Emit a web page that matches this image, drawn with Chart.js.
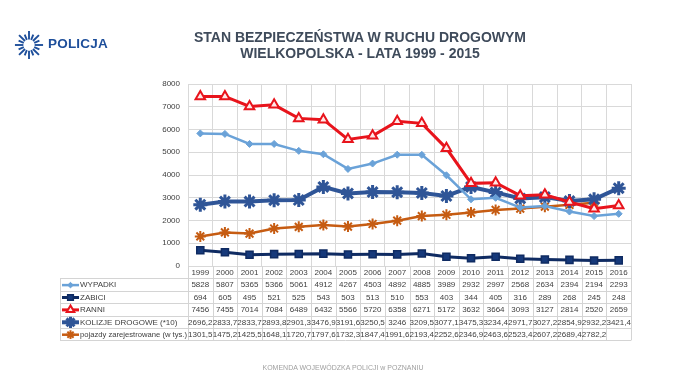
<!DOCTYPE html>
<html>
<head>
<meta charset="utf-8">
<script src="https://cdn.jsdelivr.net/npm/chart.js@4.4.1/dist/chart.umd.min.js"></script>
<style>
  html, body { margin: 0; padding: 0; background: #fff; }
  #wrap { position: relative; width: 686px; height: 385px; overflow: hidden; }
  #chart { position: absolute; left: 0; top: 0; }
  .title { position: absolute; left: 0; width: 720px; text-align: center; font-family: "Liberation Sans", Arial, sans-serif; font-weight: bold; font-size: 14px; color: #3f4b5b; }
  #logoText { position: absolute; left: 48px; top: 36px; font-family: "Liberation Sans", Arial, sans-serif; font-weight: bold; font-size: 13.5px; color: #1d4e9a; letter-spacing: 0.2px; }
  #logo { position: absolute; left: 14px; top: 30px; }
  #footer { position: absolute; left: 0; width: 686px; top: 364px; text-align: center; font-family: "Liberation Sans", Arial, sans-serif; font-size: 7px; color: #a0a0a0; }
</style>
</head>
<body>
<div id="wrap">
  <canvas id="chart" width="686" height="385"></canvas>
  <svg id="logo" width="30" height="30" viewBox="-16 -16 32 32"></svg>
  <div id="logoText">POLICJA</div>
  <div class="title" style="top:29px">STAN BEZPIECZEŃSTWA W RUCHU DROGOWYM</div>
  <div class="title" style="top:45px">WIELKOPOLSKA - LATA 1999 - 2015</div>
  <div id="footer">KOMENDA WOJEWÓDZKA POLICJI w POZNANIU</div>
</div>
<script>
let years = ["1999","2000","2001","2002","2003","2004","2005","2006","2007","2008","2009","2010","2011","2012","2013","2014","2015","2016"];
let wypadki = [5828,5807,5365,5366,5061,4912,4267,4503,4892,4885,3989,2932,2997,2568,2634,2394,2194,2293];
let zabici = [694,605,495,521,525,543,503,513,510,553,403,344,405,316,289,268,245,248];
let ranni = [7456,7455,7014,7084,6489,6432,5566,5720,6358,6271,5172,3632,3664,3093,3127,2814,2520,2659];
let kolizje = [2696.2,2833.7,2833.7,2893.8,2901.3,3476.9,3191.6,3250.5,3246,3209.5,3077.1,3475.3,3234.4,2971.7,3027.2,2854.9,2932.2,3421.4];
let pojazdy = [1301.5,1475.2,1425.5,1648.1,1720.7,1797.6,1732.3,1847.4,1991.6,2193.4,2252.6,2346.9,2463.6,2523.4,2607.2,2689.4,2782.2,null];
let yTicks = [0,1000,2000,3000,4000,5000,6000,7000,8000];

// logo rays
let svg = document.getElementById("logo");
let rays = "";
for (let i = 0; i < 16; i++) {
    let a = i * Math.PI / 8;
    let r1 = 6, r2 = (i % 2 == 0) ? 15 : 12;
    rays += `<line x1="${(Math.cos(a)*r1).toFixed(2)}" y1="${(Math.sin(a)*r1).toFixed(2)}" x2="${(Math.cos(a)*r2).toFixed(2)}" y2="${(Math.sin(a)*r2).toFixed(2)}" stroke="#1d4e9a" stroke-width="2"/>`;
}
svg.innerHTML = rays;

function fmt(v) {
    if (v === null || v === undefined) return "";
    return String(v).replace(".", ",");
}

let series = [
    { label: "WYPADKI", data: wypadki, color: "#6aa2d8", style: "rectRot", radius: 3.5, width: 2.5, bg: "#6aa2d8", bw: 1 },
    { label: "ZABICI", data: zabici, color: "#0f2b62", style: "rect", radius: 5, width: 3, bg: "#16397a", bw: 1.5 },
    { label: "RANNI", data: ranni, color: "#e8141c", style: "triangle", radius: 5.5, width: 3, bg: "#ffe8e8", bw: 2 },
    { label: "KOLIZJE DROGOWE (*10)", data: kolizje, color: "#2f5597", style: "star", radius: 7, width: 4, bg: "#2f5597", bw: 3 },
    { label: "pojazdy zarejestrowane (w tys.)", data: pojazdy, color: "#c65c12", style: "star", radius: 5.5, width: 2.5, bg: "#c65c12", bw: 2 }
];

const tablePlugin = {
    id: "dataTable",
    afterDraw(chart) {
        let ctx = chart.ctx;
        let x = chart.scales.x;
        let area = chart.chartArea;
        let rowH = 12.4;
        let top = area.bottom;
        let labelLeft = 60;
        let half = (x.getPixelForValue(1) - x.getPixelForValue(0)) / 2;
        ctx.save();
        ctx.strokeStyle = "#d4d4d4";
        ctx.lineWidth = 1;
        ctx.beginPath();
        for (let i = 0; i <= years.length; i++) {
            let px = Math.round(x.getPixelForValue(i) - half) + 0.5;
            ctx.moveTo(px, top);
            ctx.lineTo(px, top + rowH * (series.length + 1));
        }
        for (let r = 1; r <= series.length + 1; r++) {
            let py = Math.round(top + rowH * r) + 0.5;
            ctx.moveTo(labelLeft, py);
            ctx.lineTo(area.right, py);
        }
        ctx.moveTo(labelLeft + 0.5, top + rowH);
        ctx.lineTo(labelLeft + 0.5, top + rowH * (series.length + 1));
        ctx.stroke();

        ctx.font = "8px 'Liberation Sans', Arial, sans-serif";
        ctx.fillStyle = "#404040";
        ctx.textAlign = "center";
        ctx.textBaseline = "middle";
        years.forEach((yr, i) => {
            ctx.fillText(yr, x.getPixelForValue(i), top + rowH / 2 + 1);
        });
        let cellLeft = x.getPixelForValue(0) - half;
        series.forEach((s, r) => {
            let cy = top + rowH * (r + 1.5) + 0.5;
            ctx.textAlign = "center";
            ctx.fillStyle = "#404040";
            s.data.forEach((v, i) => {
                ctx.fillText(fmt(v), x.getPixelForValue(i), cy);
            });
            // legend key
            ctx.strokeStyle = s.color;
            ctx.lineWidth = s.width;
            ctx.beginPath();
            ctx.moveTo(labelLeft + 2, cy);
            ctx.lineTo(labelLeft + 19, cy);
            ctx.stroke();
            ctx.fillStyle = s.bg;
            ctx.strokeStyle = s.color;
            ctx.lineWidth = s.bw;
            Chart.helpers.drawPoint(ctx, { pointStyle: s.style, radius: s.radius * 0.8, borderWidth: s.bw }, labelLeft + 10.5, cy);
            ctx.fillStyle = "#404040";
            ctx.textAlign = "left";
            let tx = labelLeft + 20;
            let room = cellLeft - tx - 1;
            let w = ctx.measureText(s.label).width;
            ctx.save();
            ctx.translate(tx, cy);
            if (w > room) ctx.scale(room / w, 1);
            ctx.fillText(s.label, 0, 0);
            ctx.restore();
        });
        ctx.restore();
    }
};

let ctx = document.getElementById("chart").getContext("2d");
let chart = new Chart(ctx, {
    type: "line",
    data: {
        labels: years,
        datasets: series.map(s => ({
            label: s.label,
            data: s.data,
            borderColor: s.color,
            backgroundColor: s.bg,
            borderWidth: s.width,
            pointStyle: s.style,
            pointRadius: s.radius,
            pointBorderColor: s.color,
            pointBackgroundColor: s.bg,
            pointBorderWidth: s.bw,
            tension: 0,
            spanGaps: false
        }))
    },
    options: {
        responsive: false,
        animation: false,
        layout: { padding: { left: 148, right: 55, top: 84, bottom: 119 } },
        plugins: { legend: { display: false }, tooltip: { enabled: false } },
        scales: {
            x: {
                offset: true,
                grid: { offset: true, color: "#d9d9d9", drawTicks: false },
                border: { display: true, color: "#d9d9d9" },
                ticks: { display: false }
            },
            y: {
                min: 0,
                max: 8000,
                afterBuildTicks: (scale) => { scale.ticks = yTicks.map(v => ({ value: v })); },
                afterFit: (scale) => { scale.width = 40; },
                grid: { color: "#d9d9d9", drawTicks: false },
                border: { display: false },
                ticks: {
                    color: "#404040",
                    padding: 8,
                    font: { family: "'Liberation Sans', Arial, sans-serif", size: 8 },
                    callback: (v) => String(v)
                }
            }
        }
    },
    plugins: [tablePlugin]
});
</script>
</body>
</html>
